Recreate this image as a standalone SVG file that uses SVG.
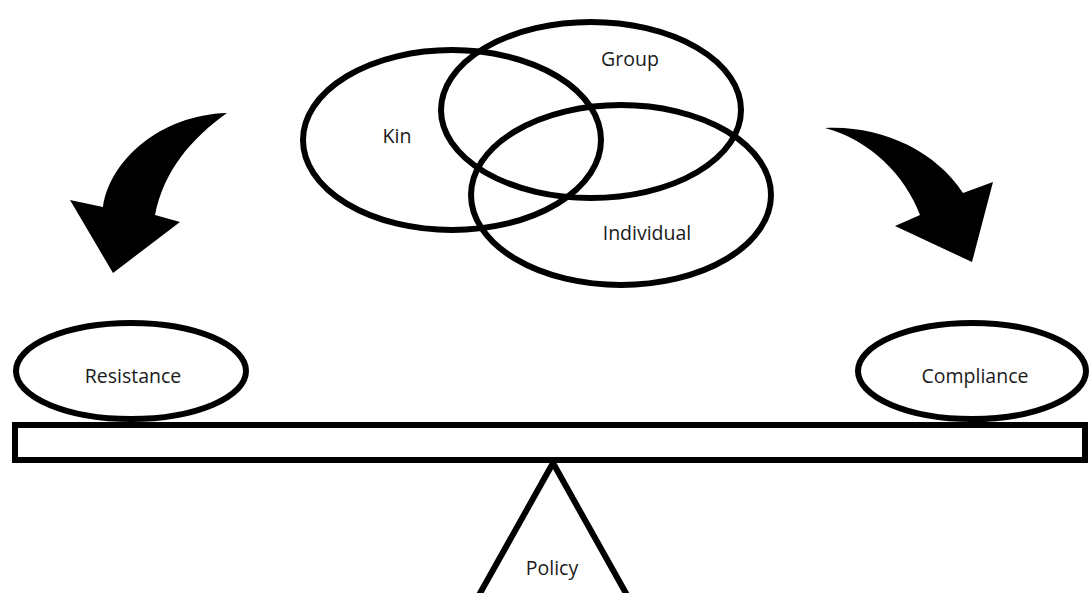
<svg xmlns="http://www.w3.org/2000/svg" width="1090" height="593" viewBox="0 0 1090 593">
<style>
.sh{fill:none;stroke:#000;stroke-width:6}
.lbl{font-family:"Open Sans","Noto Sans",sans-serif;font-size:19.5px;fill:#1a1a1a;text-anchor:middle;dominant-baseline:central}
.arr{fill:#000;stroke:none}
</style>
<rect width="1090" height="593" fill="#fff"/>
<g id="connectors">
<path class="arr" d="M227,113 C160,115 110,160 103,207 L70,200 L113,273 L180,222 L155,215 C164,170 192,138 227,113 Z"/>
<path class="arr" d="M825,128 C880,125 935,150 963,193 L993,182 L972,262 L895,226 L920,215 C905,175 870,140 825,128 Z"/>
</g>
<g id="kin"><ellipse class="sh" cx="452" cy="140" rx="149" ry="90"/><text class="lbl" x="397" y="135">Kin</text></g>
<g id="group"><ellipse class="sh" cx="591" cy="110" rx="150" ry="88"/><text class="lbl" x="630" y="58">Group</text></g>
<g id="individual"><ellipse class="sh" cx="621" cy="195" rx="150" ry="90"/><text class="lbl" x="647" y="232">Individual</text></g>
<g id="beam"><rect class="sh" x="15" y="425" width="1070" height="35"/></g>
<g id="resistance"><ellipse class="sh" cx="131" cy="371" rx="115" ry="48"/><text class="lbl" x="133" y="375">Resistance</text></g>
<g id="compliance"><ellipse class="sh" cx="972" cy="371" rx="114" ry="48"/><text class="lbl" x="975" y="375">Compliance</text></g>
<g id="policy"><path class="sh" d="M474,604 L553,463 L632,604"/><text class="lbl" x="552" y="567">Policy</text></g>
</svg>
